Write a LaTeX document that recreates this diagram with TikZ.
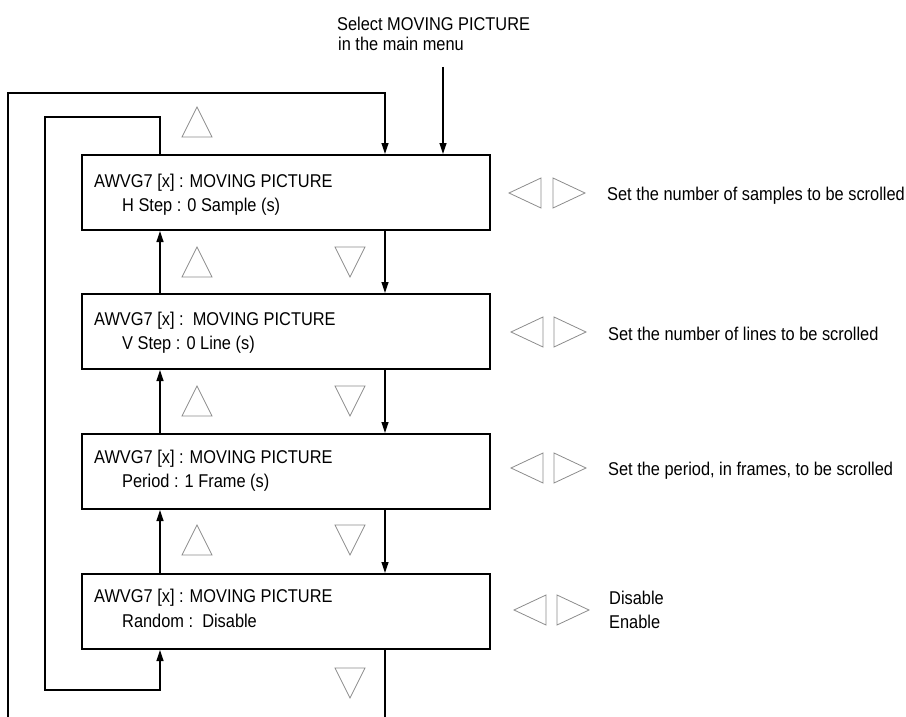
\documentclass[tikz,border=0pt]{standalone}
\usepackage{fontspec}
\setmainfont[FakeStretch=0.885]{Liberation Sans}
\usetikzlibrary{arrows.meta}
\begin{document}
\begin{tikzpicture}[x=1pt,y=-1pt,
  box/.style={draw=black,line width=2pt,minimum width=408pt,minimum height=75pt,inner sep=0pt},
  txt/.style={inner sep=0pt,anchor=base west,font=\fontsize{18.5}{20}\selectfont},
  conn/.style={draw=black,line width=1.2pt},
  arr/.style={conn,-{Triangle[length=11pt,width=7pt]}},
  tri/.style={draw=black!45,line width=0.8pt},
  uptri/.pic={\draw[tri] (-15,15) -- (15,15) -- (0,-15) -- cycle;},
  dntri/.pic={\draw[tri] (-15,-15) -- (15,-15) -- (0,15) -- cycle;},
  lftri/.pic={\draw[tri] (-16,0) -- (16,-15) -- (16,15) -- cycle;},
  rttri/.pic={\draw[tri] (16,0) -- (-16,-15) -- (-16,15) -- cycle;}]
\useasboundingbox (0,0) rectangle (906,717);

% boxes
\node[box] (b1) at (286,192.5) {};
\node[box] (b2) at (286,331.5) {};
\node[box] (b3) at (286,471.5) {};
\node[box] (b4) at (286,611.5) {};

% box texts
\node[txt] (t1a) at (94,187) {AWVG7 [x] : MOVING PICTURE};
\node[txt] (t1b) at (122,211) {H Step : 0 Sample (s)};
\node[txt] (t2a) at (94,325) {AWVG7 [x] :\ \ MOVING PICTURE};
\node[txt] (t2b) at (122,349) {V Step : 0 Line (s)};
\node[txt] (t3a) at (94,463) {AWVG7 [x] : MOVING PICTURE};
\node[txt] (t3b) at (122,487) {Period : 1 Frame (s)};
\node[txt] (t4a) at (94,602) {AWVG7 [x] : MOVING PICTURE};
\node[txt] (t4b) at (122,627) {Random :\ \ Disable};

% right texts
\node[txt] (r1) at (607,200) {Set the number of samples to be scrolled};
\node[txt] (r2) at (608,340) {Set the number of lines to be scrolled};
\node[txt] (r3) at (608,475) {Set the period, in frames, to be scrolled};
\node[txt] (r4a) at (609,604) {Disable};
\node[txt] (r4b) at (609,628) {Enable};

% top label
\node[txt] (sel1) at (337,31) {Select MOVING PICTURE};
\node[txt] (sel2) at (338,51) {in the main menu};
\coordinate (selA) at (443,67);
\draw[arr] (selA) -- (b1.north -| selA);

% connector columns
\coordinate (R) at (385,0);
\coordinate (L) at (160,0);

% down arrows
\draw[arr] (b1.south -| R) -- (b2.north -| R);
\draw[arr] (b2.south -| R) -- (b3.north -| R);
\draw[arr] (b3.south -| R) -- (b4.north -| R);
\coordinate (bot) at (385,717);
\draw[conn] (b4.south -| R) -- (bot);

% up arrows
\draw[arr] (b2.north -| L) -- (b1.south -| L);
\draw[arr] (b3.north -| L) -- (b2.south -| L);
\draw[arr] (b4.north -| L) -- (b3.south -| L);

% outer loop
\coordinate (o1) at (8,717);
\coordinate (o2) at (8,93);
\coordinate (o3) at (385,93);
\draw[arr] (o1) -- (o2) -- (o3) -- (b1.north -| o3);

% inner loop
\coordinate (i1) at (160,117);
\coordinate (i2) at (45,117);
\coordinate (i3) at (45,690);
\coordinate (i4) at (160,690);
\draw[arr] (b1.north -| i1) -- (i1) -- (i2) -- (i3) -- (i4) -- (b4.south -| i4);

% up/down triangles
\pic at (197,122) {uptri};
\pic at (197,262) {uptri};
\pic at (197,401) {uptri};
\pic at (197,540) {uptri};
\pic at (350,262) {dntri};
\pic at (350,401) {dntri};
\pic at (350,540) {dntri};
\pic at (350,683) {dntri};

% left/right triangles
\pic at (525,193) {lftri};
\pic at (569,193) {rttri};
\pic at (527,332) {lftri};
\pic at (570,332) {rttri};
\pic at (527,468) {lftri};
\pic at (570,468) {rttri};
\pic at (530,610) {lftri};
\pic at (573,610) {rttri};
\end{tikzpicture}
\end{document}
